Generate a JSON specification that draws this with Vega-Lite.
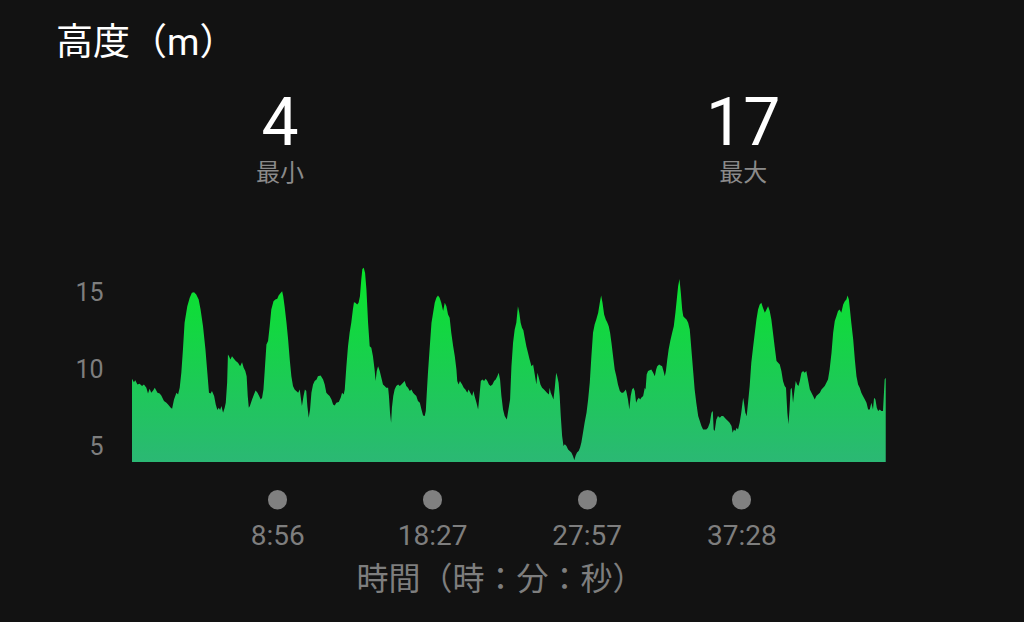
{
  "$schema": "https://vega.github.io/schema/vega-lite/v6.json",
  "width": 754,
  "height": 200,
  "autosize": {"type": "none"},
  "padding": {"left": 132, "top": 262, "right": 138, "bottom": 160},
  "background": "#121212",
  "config": {
    "font": "Roboto, Noto Sans CJK JP",
    "view": {"stroke": null},
    "axis": {"grid": false, "domain": false}
  },
  "title": {
    "text": "高度（m）",
    "anchor": "start",
    "frame": "group",
    "dx": -76,
    "fontSize": 37,
    "fontWeight": "normal",
    "color": "#ffffff",
    "baseline": "alphabetic",
    "offset": 0
  },
  "datasets": {
    "altitude": [
      {"t":0,"e":9.41},{"t":7,"e":9.19},{"t":12,"e":9.32},{"t":20,"e":9.04},{"t":28,"e":9.09},{"t":37,"e":8.94},{"t":44,"e":9.04},{"t":53,"e":8.83},{"t":59,"e":8.46},{"t":65,"e":8.76},{"t":71,"e":8.5},{"t":78,"e":8.65},{"t":84,"e":8.83},{"t":94,"e":8.5},{"t":102,"e":8.46},{"t":108,"e":8.33},{"t":118,"e":7.96},{"t":127,"e":7.85},{"t":133,"e":7.74},{"t":143,"e":7.53},{"t":148,"e":7.46},{"t":155,"e":8.07},{"t":164,"e":8.5},{"t":170,"e":8.39},{"t":176,"e":8.83},{"t":182,"e":9.8},{"t":188,"e":11.32},{"t":194,"e":13.05},{"t":204,"e":14.13},{"t":213,"e":14.67},{"t":221,"e":15.0},{"t":229,"e":15.04},{"t":237,"e":14.89},{"t":246,"e":14.56},{"t":253,"e":13.91},{"t":262,"e":12.83},{"t":271,"e":11.32},{"t":278,"e":9.8},{"t":284,"e":8.5},{"t":290,"e":8.46},{"t":295,"e":8.61},{"t":303,"e":8.29},{"t":309,"e":7.74},{"t":315,"e":7.38},{"t":320,"e":7.53},{"t":325,"e":7.38},{"t":330,"e":7.64},{"t":336,"e":7.2},{"t":342,"e":7.53},{"t":346,"e":7.85},{"t":351,"e":9.15},{"t":354,"e":10.99},{"t":358,"e":10.88},{"t":363,"e":10.67},{"t":369,"e":10.88},{"t":376,"e":10.71},{"t":383,"e":10.56},{"t":391,"e":10.45},{"t":399,"e":10.23},{"t":406,"e":10.49},{"t":412,"e":10.13},{"t":418,"e":9.91},{"t":423,"e":9.58},{"t":427,"e":8.29},{"t":431,"e":7.53},{"t":435,"e":7.64},{"t":443,"e":8.07},{"t":450,"e":8.39},{"t":456,"e":8.65},{"t":463,"e":8.5},{"t":469,"e":8.29},{"t":475,"e":8.07},{"t":480,"e":8.18},{"t":485,"e":8.72},{"t":490,"e":10.02},{"t":496,"e":11.64},{"t":502,"e":11.86},{"t":508,"e":12.83},{"t":514,"e":13.91},{"t":522,"e":14.45},{"t":529,"e":14.56},{"t":536,"e":14.61},{"t":541,"e":14.82},{"t":549,"e":15.0},{"t":554,"e":15.1},{"t":558,"e":14.78},{"t":563,"e":14.13},{"t":570,"e":13.05},{"t":576,"e":11.97},{"t":582,"e":10.67},{"t":588,"e":9.58},{"t":594,"e":8.94},{"t":600,"e":8.72},{"t":606,"e":8.61},{"t":613,"e":8.5},{"t":619,"e":8.72},{"t":622,"e":8.29},{"t":627,"e":7.64},{"t":633,"e":8.29},{"t":638,"e":8.72},{"t":643,"e":8.61},{"t":647,"e":7.64},{"t":652,"e":6.88},{"t":657,"e":7.42},{"t":662,"e":8.5},{"t":668,"e":9.04},{"t":674,"e":9.26},{"t":681,"e":9.37},{"t":686,"e":9.58},
      {"t":696,"e":9.63},{"t":705,"e":9.37},{"t":711,"e":9.04},{"t":717,"e":8.5},{"t":723,"e":8.39},{"t":729,"e":8.29},{"t":736,"e":8.07},{"t":742,"e":7.74},{"t":748,"e":7.68},{"t":754,"e":7.85},{"t":763,"e":7.9},{"t":770,"e":8.18},{"t":775,"e":8.5},{"t":781,"e":8.39},{"t":785,"e":8.72},{"t":791,"e":10.23},{"t":797,"e":11.53},{"t":803,"e":12.4},{"t":809,"e":13.05},{"t":815,"e":13.91},{"t":819,"e":14.39},{"t":824,"e":14.35},{"t":831,"e":14.24},{"t":836,"e":14.35},{"t":841,"e":14.78},{"t":846,"e":15.86},{"t":850,"e":16.55},{"t":855,"e":16.62},{"t":860,"e":16.29},{"t":865,"e":15.21},{"t":871,"e":13.05},{"t":877,"e":11.53},{"t":883,"e":11.42},{"t":889,"e":10.88},{"t":895,"e":10.02},{"t":899,"e":9.26},{"t":903,"e":9.91},{"t":908,"e":10.23},{"t":914,"e":9.91},{"t":920,"e":9.48},{"t":926,"e":9.04},{"t":932,"e":8.94},{"t":938,"e":8.83},{"t":945,"e":8.83},{"t":948,"e":8.29},{"t":952,"e":7.2},{"t":956,"e":6.55},{"t":959,"e":7.53},{"t":964,"e":8.29},{"t":969,"e":8.72},{"t":975,"e":8.94},{"t":982,"e":9.04},{"t":988,"e":8.94},{"t":994,"e":9.04},{"t":1000,"e":9.15},{"t":1006,"e":9.26},{"t":1012,"e":8.94},{"t":1018,"e":8.83},{"t":1025,"e":8.61},{"t":1031,"e":8.72},{"t":1037,"e":8.5},{"t":1043,"e":8.39},{"t":1049,"e":8.29},{"t":1055,"e":7.96},{"t":1062,"e":7.85},{"t":1068,"e":7.42},{"t":1074,"e":7.03},{"t":1080,"e":6.99},{"t":1084,"e":7.31},{"t":1087,"e":8.29},{"t":1092,"e":9.8},{"t":1098,"e":11.32},{"t":1105,"e":13.05},{"t":1111,"e":13.7},{"t":1117,"e":14.35},{"t":1123,"e":14.67},{"t":1129,"e":14.82},{"t":1135,"e":14.67},{"t":1141,"e":14.35},{"t":1148,"e":13.81},{"t":1154,"e":14.35},{"t":1160,"e":14.13},{"t":1166,"e":13.59},{"t":1172,"e":13.37},{"t":1178,"e":12.4},{"t":1185,"e":11.53},{"t":1191,"e":10.88},{"t":1197,"e":10.02},{"t":1200,"e":9.26},{"t":1205,"e":9.04},{"t":1210,"e":9.26},{"t":1218,"e":9.04},{"t":1224,"e":8.83},{"t":1230,"e":8.72},{"t":1237,"e":8.5},{"t":1242,"e":8.72},{"t":1248,"e":8.5},{"t":1255,"e":8.29},{"t":1260,"e":8.61},{"t":1264,"e":8.29},{"t":1271,"e":7.85},{"t":1277,"e":7.42},{"t":1282,"e":8.29},{"t":1287,"e":9.26},{"t":1293,"e":9.37},{"t":1299,"e":9.26},{"t":1305,"e":9.41},{"t":1311,"e":9.26},{"t":1317,"e":9.04},{"t":1323,"e":8.94},{"t":1330,"e":9.04},{"t":1336,"e":9.26},{"t":1342,"e":9.37},{"t":1348,"e":9.58},{"t":1353,"e":9.8},{"t":1358,"e":9.37},{"t":1363,"e":8.29},{"t":1369,"e":7.42},{"t":1375,"e":6.99},{"t":1383,"e":6.77},{"t":1387,"e":7.2},
      {"t":1395,"e":8.07},{"t":1400,"e":10.23},{"t":1406,"e":11.75},{"t":1412,"e":12.61},{"t":1418,"e":13.05},{"t":1424,"e":14.13},{"t":1429,"e":13.7},{"t":1434,"e":13.05},{"t":1439,"e":12.72},{"t":1444,"e":12.57},{"t":1449,"e":12.07},{"t":1455,"e":11.53},{"t":1461,"e":11.1},{"t":1467,"e":10.67},{"t":1474,"e":10.23},{"t":1480,"e":10.34},{"t":1486,"e":9.69},{"t":1492,"e":9.04},{"t":1496,"e":9.8},{"t":1501,"e":9.48},{"t":1507,"e":9.04},{"t":1513,"e":8.83},{"t":1520,"e":8.72},{"t":1525,"e":8.61},{"t":1531,"e":8.5},{"t":1538,"e":8.39},{"t":1541,"e":8.83},{"t":1545,"e":8.5},{"t":1550,"e":8.29},{"t":1555,"e":8.07},{"t":1560,"e":8.83},{"t":1565,"e":9.8},{"t":1569,"e":9.58},{"t":1574,"e":9.15},{"t":1578,"e":8.29},{"t":1582,"e":6.99},{"t":1587,"e":5.69},{"t":1592,"e":5.04},{"t":1597,"e":5.15},{"t":1603,"e":5.04},{"t":1609,"e":4.82},{"t":1615,"e":4.71},{"t":1621,"e":4.61},{"t":1627,"e":4.39},{"t":1632,"e":4.13},{"t":1637,"e":4.43},{"t":1642,"e":4.61},{"t":1648,"e":4.71},{"t":1653,"e":4.93},{"t":1658,"e":5.26},{"t":1664,"e":5.9},{"t":1670,"e":6.55},{"t":1677,"e":7.2},{"t":1683,"e":8.07},{"t":1689,"e":9.15},{"t":1695,"e":10.88},{"t":1701,"e":12.4},{"t":1707,"e":12.94},{"t":1713,"e":13.26},{"t":1720,"e":13.7},{"t":1726,"e":14.35},{"t":1731,"e":14.82},{"t":1736,"e":14.35},{"t":1742,"e":13.59},{"t":1748,"e":13.26},{"t":1754,"e":13.05},{"t":1759,"e":12.83},{"t":1764,"e":12.4},{"t":1769,"e":11.75},{"t":1775,"e":10.88},{"t":1781,"e":10.02},{"t":1787,"e":9.58},{"t":1793,"e":9.04},{"t":1800,"e":8.61},{"t":1806,"e":8.5},{"t":1812,"e":8.5},{"t":1818,"e":8.61},{"t":1822,"e":8.72},{"t":1825,"e":8.5},{"t":1830,"e":8.07},{"t":1835,"e":7.42},{"t":1840,"e":8.29},{"t":1845,"e":8.72},{"t":1850,"e":8.83},{"t":1855,"e":8.61},{"t":1860,"e":7.85},{"t":1865,"e":8.07},{"t":1870,"e":8.18},{"t":1875,"e":8.07},{"t":1879,"e":8.18},{"t":1886,"e":8.29},{"t":1892,"e":8.83},{"t":1895,"e":8.72},{"t":1899,"e":9.69},{"t":1904,"e":9.91},{"t":1910,"e":9.97},{"t":1916,"e":10.02},{"t":1923,"e":9.8},{"t":1929,"e":9.58},{"t":1934,"e":10.02},{"t":1938,"e":10.23},{"t":1945,"e":10.34},{"t":1951,"e":10.28},{"t":1956,"e":10.23},{"t":1961,"e":9.91},{"t":1966,"e":9.58},{"t":1970,"e":9.91},{"t":1975,"e":10.67},{"t":1980,"e":11.32},{"t":1986,"e":11.86},{"t":1993,"e":12.4},{"t":1999,"e":12.83},{"t":2005,"e":13.7},{"t":2010,"e":14.56},{"t":2015,"e":15.43},{"t":2020,"e":15.9},{"t":2025,"e":15.0},{"t":2030,"e":13.91},{"t":2034,"e":13.48},{"t":2039,"e":13.37},{"t":2046,"e":13.26},{"t":2052,"e":13.05},{"t":2058,"e":12.61},{"t":2061,"e":11.97},{"t":2066,"e":10.88},{"t":2071,"e":9.8},{"t":2076,"e":8.72},{"t":2082,"e":7.85},
      {"t":2089,"e":6.99},{"t":2095,"e":6.66},{"t":2101,"e":6.34},{"t":2107,"e":6.12},{"t":2113,"e":6.12},{"t":2119,"e":6.12},{"t":2125,"e":6.23},{"t":2132,"e":6.55},{"t":2138,"e":7.2},{"t":2143,"e":7.31},{"t":2146,"e":6.12},{"t":2150,"e":6.01},{"t":2156,"e":6.77},{"t":2162,"e":6.99},{"t":2169,"e":6.88},{"t":2175,"e":6.99},{"t":2181,"e":6.99},{"t":2187,"e":6.88},{"t":2193,"e":6.77},{"t":2199,"e":6.66},{"t":2205,"e":6.55},{"t":2212,"e":6.34},{"t":2216,"e":5.9},{"t":2221,"e":6.12},{"t":2226,"e":6.01},{"t":2231,"e":6.23},{"t":2236,"e":6.12},{"t":2242,"e":6.55},{"t":2248,"e":7.2},{"t":2255,"e":8.18},{"t":2258,"e":7.85},{"t":2263,"e":7.2},{"t":2268,"e":6.99},{"t":2273,"e":7.85},{"t":2279,"e":8.94},{"t":2285,"e":10.45},{"t":2292,"e":11.53},{"t":2298,"e":12.4},{"t":2304,"e":13.26},{"t":2310,"e":13.91},{"t":2316,"e":14.24},{"t":2322,"e":14.35},{"t":2328,"e":14.02},{"t":2335,"e":13.7},{"t":2341,"e":13.91},{"t":2347,"e":14.13},{"t":2353,"e":13.81},{"t":2359,"e":13.26},{"t":2365,"e":12.4},{"t":2371,"e":11.53},{"t":2378,"e":10.56},{"t":2384,"e":10.45},{"t":2390,"e":10.34},{"t":2396,"e":9.91},{"t":2402,"e":9.26},{"t":2408,"e":8.94},{"t":2413,"e":8.83},{"t":2418,"e":7.2},{"t":2422,"e":6.45},{"t":2426,"e":7.42},{"t":2430,"e":8.72},{"t":2434,"e":8.83},{"t":2439,"e":7.85},{"t":2444,"e":8.61},{"t":2449,"e":9.26},{"t":2454,"e":9.04},{"t":2459,"e":8.94},{"t":2464,"e":9.26},{"t":2470,"e":9.8},{"t":2476,"e":9.91},{"t":2482,"e":9.8},{"t":2488,"e":9.91},{"t":2494,"e":9.37},{"t":2501,"e":8.72},{"t":2507,"e":8.5},{"t":2513,"e":8.29},{"t":2519,"e":8.07},{"t":2525,"e":8.29},{"t":2531,"e":8.39},{"t":2538,"e":8.5},{"t":2544,"e":8.72},{"t":2550,"e":8.83},{"t":2556,"e":8.94},{"t":2562,"e":9.15},{"t":2568,"e":9.37},{"t":2574,"e":10.02},{"t":2581,"e":11.1},{"t":2587,"e":12.4},{"t":2593,"e":13.16},{"t":2599,"e":13.48},{"t":2605,"e":13.81},{"t":2611,"e":13.91},{"t":2617,"e":13.7},{"t":2624,"e":14.24},{"t":2630,"e":14.45},{"t":2636,"e":14.56},{"t":2640,"e":14.82},{"t":2645,"e":14.56},{"t":2649,"e":13.91},{"t":2654,"e":13.05},{"t":2661,"e":11.97},{"t":2667,"e":10.67},{"t":2673,"e":9.58},{"t":2679,"e":9.04},{"t":2685,"e":8.83},{"t":2691,"e":8.5},{"t":2697,"e":8.29},{"t":2704,"e":8.07},{"t":2710,"e":7.85},{"t":2716,"e":7.42},{"t":2722,"e":7.42},{"t":2728,"e":7.85},{"t":2734,"e":7.42},{"t":2738,"e":8.18},{"t":2743,"e":8.07},{"t":2748,"e":7.53},{"t":2753,"e":7.31},{"t":2759,"e":7.42},{"t":2765,"e":7.31},{"t":2771,"e":7.31},{"t":2777,"e":9.37},{"t":2781,"e":9.48}
    ],
    "stats": [
      {"stat": "最小", "value": 4},
      {"stat": "最大", "value": 17}
    ]
  },
  "layer": [
    {
      "data": {"name": "altitude"},
      "mark": {
        "type": "area",
        "interpolate": "linear",
        "fill": {
          "gradient": "linear",
          "x1": 0, "y1": 0, "x2": 0, "y2": 1,
          "stops": [
            {"offset": 0, "color": "#08e52a"},
            {"offset": 1, "color": "#2bb874"}
          ]
        }
      },
      "encoding": {
        "x": {
          "field": "t",
          "type": "quantitative",
          "scale": {"domain": [0, 2782], "nice": false, "zero": false},
          "axis": {
            "values": [536, 1107, 1677, 2248],
            "labelExpr": "floor(datum.value / 60) + ':' + (datum.value % 60 < 10 ? '0' : '') + (datum.value % 60)",
            "offset": 37,
            "ticks": true,
            "tickSize": 0.5,
            "tickWidth": 19,
            "tickCap": "round",
            "tickColor": "#808080",
            "labelFontSize": 28,
            "labelColor": "#7e7e7e",
            "labelBaseline": "alphabetic",
            "labelPadding": 45,
            "labelFlush": false,
            "title": "時間（時：分：秒）",
            "titleFontSize": 32,
            "titleFontWeight": "normal",
            "titleColor": "#7e7e7e",
            "titleBaseline": "alphabetic",
            "titleX": 368,
            "titleY": 90
          }
        },
        "y": {
          "field": "e",
          "type": "quantitative",
          "scale": {"domain": [4, 17], "nice": false, "zero": false},
          "axis": {
            "values": [5, 10, 15],
            "ticks": false,
            "tickSize": 0,
            "labelPadding": 29,
            "labelFontSize": 25,
            "labelColor": "#7e7e7e",
            "title": null
          }
        },
        "y2": {"datum": 4}
      }
    },
    {
      "data": {"name": "stats"},
      "transform": [{"filter": "datum.stat === '最小'"}],
      "mark": {"type": "text", "fontSize": 66, "color": "#ffffff", "baseline": "alphabetic", "align": "center", "clip": false},
      "encoding": {
        "x": {"datum": 546, "type": "quantitative"},
        "y": {"datum": 24.6, "type": "quantitative"},
        "text": {"field": "value", "type": "quantitative"}
      }
    },
    {
      "data": {"name": "stats"},
      "transform": [{"filter": "datum.stat === '最小'"}],
      "mark": {"type": "text", "fontSize": 24, "color": "#8a8a8a", "baseline": "alphabetic", "align": "center", "clip": false},
      "encoding": {
        "x": {"datum": 546, "type": "quantitative"},
        "y": {"datum": 22.26, "type": "quantitative"},
        "text": {"field": "stat", "type": "nominal"}
      }
    },
    {
      "data": {"name": "stats"},
      "transform": [{"filter": "datum.stat === '最大'"}],
      "mark": {"type": "text", "fontSize": 66, "color": "#ffffff", "baseline": "alphabetic", "align": "center", "clip": false},
      "encoding": {
        "x": {"datum": 2255, "type": "quantitative"},
        "y": {"datum": 24.6, "type": "quantitative"},
        "text": {"field": "value", "type": "quantitative"}
      }
    },
    {
      "data": {"name": "stats"},
      "transform": [{"filter": "datum.stat === '最大'"}],
      "mark": {"type": "text", "fontSize": 24, "color": "#8a8a8a", "baseline": "alphabetic", "align": "center", "clip": false},
      "encoding": {
        "x": {"datum": 2255, "type": "quantitative"},
        "y": {"datum": 22.26, "type": "quantitative"},
        "text": {"field": "stat", "type": "nominal"}
      }
    }
  ]
}
